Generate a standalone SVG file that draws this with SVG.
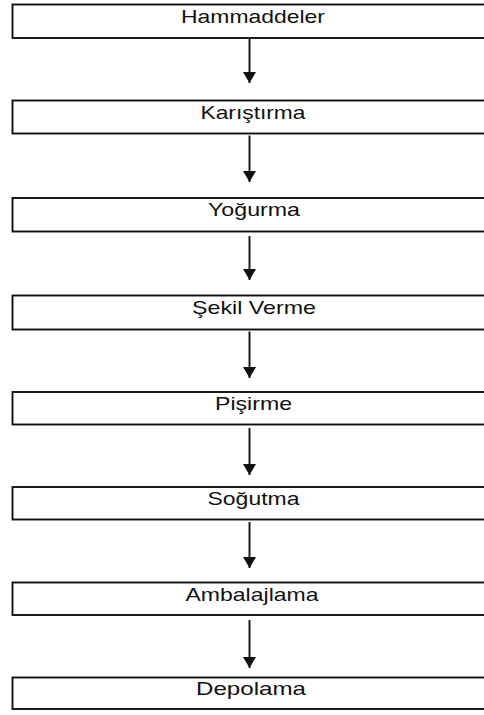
<svg xmlns="http://www.w3.org/2000/svg" width="484" height="715" viewBox="0 0 484 715">
  <style>
    .box { fill: #ffffff; stroke: #111111; stroke-width: 1.9; }
    .lbl { font-family: "Liberation Sans", Arial, sans-serif; font-size: 18.5px; fill: #111111; text-anchor: middle; }
    .conn { stroke: #111111; stroke-width: 1.9; fill: none; }
  </style>
  <defs>
    <marker id="ah" viewBox="0 0 11 13" refX="11" refY="6.5" markerWidth="11" markerHeight="13" markerUnits="userSpaceOnUse" orient="auto">
      <path d="M0,0 L11,6.5 L0,13 Z" fill="#111111"/>
    </marker>
  </defs>
  <rect width="484" height="715" fill="#ffffff"/>
  <g id="connectors">
    <line class="conn" x1="249.5" y1="39" x2="249.5" y2="83" marker-end="url(#ah)"/>
    <line class="conn" x1="249.5" y1="135.5" x2="249.5" y2="182" marker-end="url(#ah)"/>
    <line class="conn" x1="249.5" y1="236" x2="249.5" y2="280" marker-end="url(#ah)"/>
    <line class="conn" x1="249.5" y1="331.5" x2="249.5" y2="378" marker-end="url(#ah)"/>
    <line class="conn" x1="249.5" y1="428" x2="249.5" y2="475" marker-end="url(#ah)"/>
    <line class="conn" x1="249.5" y1="522" x2="249.5" y2="568" marker-end="url(#ah)"/>
    <line class="conn" x1="249.5" y1="620" x2="249.5" y2="668" marker-end="url(#ah)"/>
  </g>
  <g id="hammaddeler">
    <rect class="box" x="12.5" y="4.5" width="480" height="33.5"/>
    <text class="lbl" x="253" y="23" textLength="144" lengthAdjust="spacingAndGlyphs">Hammaddeler</text>
  </g>
  <g id="karistirma">
    <rect class="box" x="12.5" y="100.5" width="480" height="33"/>
    <text class="lbl" x="253" y="119" textLength="105" lengthAdjust="spacingAndGlyphs">Karıştırma</text>
  </g>
  <g id="yogurma">
    <rect class="box" x="12.5" y="198" width="480" height="33.5"/>
    <text class="lbl" x="254" y="216" textLength="92" lengthAdjust="spacingAndGlyphs">Yoğurma</text>
  </g>
  <g id="sekil-verme">
    <rect class="box" x="12.5" y="295.5" width="480" height="34"/>
    <text class="lbl" x="254" y="313.5" textLength="124" lengthAdjust="spacingAndGlyphs">Şekil Verme</text>
  </g>
  <g id="pisirme">
    <rect class="box" x="12.5" y="392" width="480" height="32.5"/>
    <text class="lbl" x="253.5" y="409.5" textLength="77" lengthAdjust="spacingAndGlyphs">Pişirme</text>
  </g>
  <g id="sogutma">
    <rect class="box" x="12.5" y="487" width="480" height="32.5"/>
    <text class="lbl" x="253.5" y="505" textLength="92" lengthAdjust="spacingAndGlyphs">Soğutma</text>
  </g>
  <g id="ambalajlama">
    <rect class="box" x="12.5" y="582.5" width="480" height="32.5"/>
    <text class="lbl" x="252" y="600.5" textLength="133" lengthAdjust="spacingAndGlyphs">Ambalajlama</text>
  </g>
  <g id="depolama">
    <rect class="box" x="12.5" y="677.5" width="480" height="31.5"/>
    <text class="lbl" x="251" y="695" textLength="110" lengthAdjust="spacingAndGlyphs">Depolama</text>
  </g>
</svg>
